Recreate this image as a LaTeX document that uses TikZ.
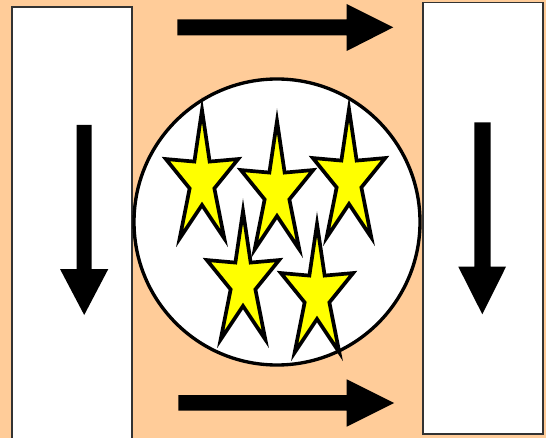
\documentclass[tikz,border=0pt]{standalone}
\usepackage{tikz}

\definecolor{durazno}{RGB}{255,204,153}
\definecolor{amarillo}{RGB}{255,255,0}

\tikzset{
  caja/.style={fill=white, draw=black!80, line width=0.6pt},
  flecha/.style={fill=black},
  estrella/.style={fill=amarillo, draw=black, line width=2.1pt, line join=miter}
}

% estrella de 5 puntas estirada en vertical
\newcommand{\estrella}[2]{%
  \filldraw[estrella] plot[samples at={0,...,9}, variable=\k]
    ({#1+(mod(\k,2)==0?38:13)*cos(90+36*\k)},
     {#2-(mod(\k,2)==0?71:24)*sin(90+36*\k)}) -- cycle;}

\begin{document}
\begin{tikzpicture}[x=0.02cm, y=-0.02cm]
% Fondo
\fill [durazno] (0,0) rectangle (546,438);
\useasboundingbox (0,0) rectangle (546,438);

% Cajas laterales
\filldraw [caja] (12,7) rectangle (132,445);
\filldraw [caja] (423,2.5) rectangle (543,434);

% Flechas hacia abajo
\fill [flecha] (76.7,125) -- (91.7,125) -- (91.7,269) -- (108.3,269) -- (84.2,315)
  -- (60,269) -- (76.7,269) -- cycle;
\fill [flecha] (474.3,122.3) -- (490.7,122.3) -- (490.7,266.7) -- (506,266.7) -- (482.3,314.3)
  -- (458.3,266.7) -- (474.3,266.7) -- cycle;

% Flechas hacia la derecha
\fill [flecha] (177.3,19.3) -- (346.7,19.3) -- (346.7,4) -- (393.3,27.3) -- (346.7,51)
  -- (346.7,35.3) -- (177.3,35.3) -- cycle;
\fill [flecha] (178.3,395) -- (346.7,395) -- (346.7,379.3) -- (394,403) -- (346.7,426.7)
  -- (346.7,410.7) -- (178.3,410.7) -- cycle;

% Circulo central
\filldraw [fill=white, draw=black, line width=1.9pt] (277,222) circle [radius=143];

% Estrellas
\estrella{202}{181}
\estrella{277}{192}
\estrella{349}{180}
\estrella{243}{282}
\estrella{317}{295}
\end{tikzpicture}
\end{document}
